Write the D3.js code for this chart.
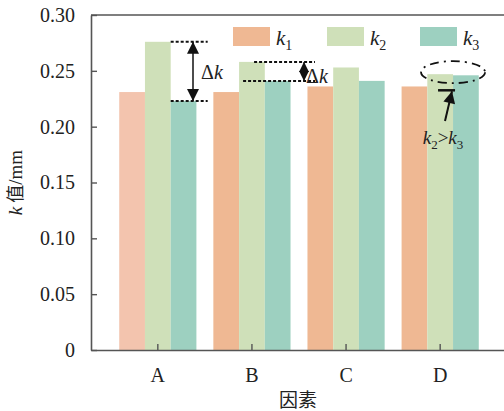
<!DOCTYPE html>
<html>
<head>
<meta charset="utf-8">
<script src="https://cdn.jsdelivr.net/npm/d3@7/dist/d3.min.js"></script>
<style>
  html, body { margin: 0; padding: 0; background: #fff; }
  svg { display: block; }
  text { font-family: "Liberation Serif", "Times New Roman", serif; fill: #222; }
</style>
</head>
<body>
<script>
// Factors on the x axis and the three k-value series (mm)
const categories = ["A", "B", "C", "D"];
const seriesNames = ["k1", "k2", "k3"];
const k1 = [0.231, 0.231, 0.236, 0.236];
const k2 = [0.276, 0.258, 0.253, 0.247];
const k3 = [0.223, 0.241, 0.241, 0.246];
const yTicks = [0, 0.05, 0.10, 0.15, 0.20, 0.25, 0.30];
const yTickLabels = ["0", "0.05", "0.10", "0.15", "0.20", "0.25", "0.30"];

const W = 504, H = 411;
const margin = { left: 91, top: 15, right: 0, bottom: 61 };
const colors = { k1: "#efb893", k2: "#cfe0b9", k3: "#9dd0c0" };
const k1FirstColor = "#f3c4ae";
const serif = "'Liberation Serif', 'Times New Roman', serif";

const svg = d3.select("body").append("svg").attr("width", W).attr("height", H);

const x = d3.scaleBand().domain(categories).range([margin.left, 507])
  .paddingInner(0.18).paddingOuter(0.3);
const xs = d3.scaleBand().domain(seriesNames).range([0, x.bandwidth()]);
const y = d3.scaleLinear().domain([0, 0.30]).range([H - margin.bottom, margin.top]);

const values = { k1, k2, k3 };
const rows = [];
categories.forEach((c, i) => seriesNames.forEach(s => rows.push({ c, s, v: values[s][i], i })));

// bars
svg.append("g").selectAll("rect").data(rows).join("rect")
  .attr("x", d => x(d.c) + xs(d.s))
  .attr("width", xs.bandwidth())
  .attr("y", d => y(d.v))
  .attr("height", d => y(0) - y(d.v))
  .attr("fill", d => (d.s === "k1" && d.i === 0) ? k1FirstColor : colors[d.s]);

// axes
const axisColor = "#555";
const yAxis = d3.axisLeft(y).tickValues(yTicks).tickFormat((d, i) => yTickLabels[i])
  .tickSizeInner(-6).tickSizeOuter(0).tickPadding(16);
const gy = svg.append("g").attr("transform", `translate(${margin.left},0)`).call(yAxis);

const xAxis = d3.axisBottom(x).tickSizeInner(-6).tickSizeOuter(0).tickPadding(18);
const gx = svg.append("g").attr("transform", `translate(0,${y(0)})`).call(xAxis);

[gy, gx].forEach(g => {
  g.attr("font-family", serif).attr("font-size", 20);
  g.selectAll("text").style("font-family", serif).style("font-size", "20px").attr("fill", "#222");
  g.select(".domain").attr("stroke", axisColor).attr("stroke-width", 1.6);
  g.selectAll(".tick line").attr("stroke", axisColor).attr("stroke-width", 1.4);
});
// top frame line
svg.append("line").attr("x1", margin.left).attr("x2", W).attr("y1", y(0.30)).attr("y2", y(0.30))
  .attr("stroke", axisColor).attr("stroke-width", 1.6);

// axis titles
svg.append("text").attr("x", 298).attr("y", 407).attr("text-anchor", "middle")
  .style("font-family", "'Noto Sans CJK SC', sans-serif").style("font-size", "19px")
  .attr("fill", "#333").text("因素");
const yTitle = svg.append("text")
  .attr("transform", `translate(22,${(y(0) + y(0.30)) / 2}) rotate(-90)`)
  .attr("text-anchor", "middle").style("font-size", "19px");
yTitle.append("tspan").style("font-style", "italic").text("k");
yTitle.append("tspan").attr("dx", 4).style("font-family", "'Noto Sans CJK SC', sans-serif")
  .style("font-size", "18px").text("值");
yTitle.append("tspan").text("/mm");

// legend
const legendX = [233, 327, 420];
seriesNames.forEach((s, i) => {
  svg.append("rect").attr("x", legendX[i]).attr("y", 27).attr("width", 37).attr("height", 19)
    .attr("fill", colors[s]);
  const t = svg.append("text").attr("x", legendX[i] + 43).attr("y", 45).style("font-size", "21px");
  t.append("tspan").style("font-style", "italic").text("k");
  t.append("tspan").attr("dy", 5).style("font-size", "14px").text(s.slice(1));
});

// arrow markers
const defs = svg.append("defs");
defs.append("marker").attr("id", "head").attr("viewBox", "0 0 10 10")
  .attr("refX", 10).attr("refY", 5).attr("markerWidth", 10).attr("markerHeight", 10)
  .attr("markerUnits", "userSpaceOnUse").attr("orient", "auto-start-reverse")
  .append("path").attr("d", "M0,0 L10,5 L0,10 Z").attr("fill", "#111");
defs.append("marker").attr("id", "headBig").attr("viewBox", "0 0 10 10")
  .attr("refX", 10).attr("refY", 5).attr("markerWidth", 16).attr("markerHeight", 12)
  .attr("markerUnits", "userSpaceOnUse").attr("orient", "auto-start-reverse")
  .append("path").attr("d", "M0,0 L10,5 L0,10 Z").attr("fill", "#111");

const dash = { stroke: "#111", "stroke-width": 2, "stroke-dasharray": "3,2" };
function dashed(x1, x2, yy) {
  const l = svg.append("line").attr("x1", x1).attr("x2", x2).attr("y1", yy).attr("y2", yy);
  Object.entries(dash).forEach(([k, v]) => l.attr(k, v));
}
function deltaLabel(xp, yp) {
  const t = svg.append("text").attr("x", xp).attr("y", yp).style("font-size", "20px");
  t.append("tspan").text("Δ");
  t.append("tspan").style("font-style", "italic").text("k");
}

// Δk on factor A (k2 vs k3)
const aRight = x("A") + xs("k2") + xs.bandwidth();
dashed(aRight, aRight + 37, y(k2[0]));
dashed(aRight, aRight + 37, y(k3[0]));
svg.append("line").attr("x1", 193).attr("x2", 193).attr("y1", y(k2[0])).attr("y2", y(k3[0]))
  .attr("stroke", "#111").attr("stroke-width", 1.5)
  .attr("marker-start", "url(#headBig)").attr("marker-end", "url(#headBig)");
deltaLabel(201, 79);

// Δk on factor B
const bL = x("B") + xs("k2") + 15;
dashed(bL, 315, y(k2[1]));
dashed(x("B") + xs("k2") + 4, 315, y(k3[1]));
svg.append("line").attr("x1", 304).attr("x2", 304).attr("y1", y(k2[1])).attr("y2", y(k3[1]))
  .attr("stroke", "#111").attr("stroke-width", 1.2)
  .attr("marker-start", "url(#head)").attr("marker-end", "url(#head)");
deltaLabel(306, 83);

// k2 > k3 on factor D
const dCx = x("D") + xs("k3");
svg.append("ellipse").attr("cx", dCx).attr("cy", y(k2[3]) - 2).attr("rx", 32).attr("ry", 11)
  .attr("fill", "none").attr("stroke", "#111").attr("stroke-width", 1.8)
  .attr("stroke-dasharray", "9,5,2,5");
svg.append("line").attr("x1", dCx - 15).attr("x2", dCx + 2).attr("y1", y(k3[3]) + 15).attr("y2", y(k3[3]) + 15)
  .attr("stroke", "#111").attr("stroke-width", 2.5);
svg.append("line").attr("x1", 445).attr("y1", 121).attr("x2", 452).attr("y2", y(k3[3]) + 16)
  .attr("stroke", "#111").attr("stroke-width", 2)
  .attr("marker-end", "url(#headBig)");
const kt = svg.append("text").attr("x", 443).attr("y", 144).attr("text-anchor", "middle")
  .style("font-size", "19px");
kt.append("tspan").style("font-style", "italic").text("k");
kt.append("tspan").attr("dy", 5).style("font-size", "13px").text("2");
kt.append("tspan").attr("dy", -5).text(">");
kt.append("tspan").style("font-style", "italic").text("k");
kt.append("tspan").attr("dy", 5).style("font-size", "13px").text("3");
</script>
</body>
</html>
